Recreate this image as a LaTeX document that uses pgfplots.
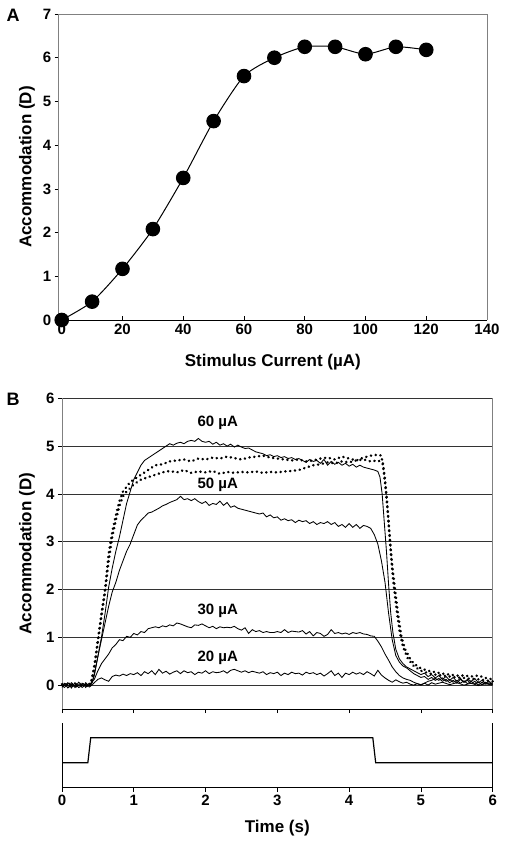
\documentclass[border=0pt]{standalone}
\usepackage{fontspec}
\setmainfont{Liberation Sans}
\usepackage{pgfplots}
\pgfplotsset{compat=1.18}
\pgfplotsset{
  mystyle/.style={
    scale only axis,
    font=\bfseries\fontsize{17}{17}\selectfont,
    ticklabel style={font=\bfseries\fontsize{15}{15}\selectfont},
    /pgf/number format/assume math mode=true,
    tick style={black, line width=0.6pt},
    major tick length=4pt,
    axis line style={-},
    axis x line*=bottom, axis y line*=left,
  },
  dotstyle/.style={black, line width=2.6pt, dash pattern=on 0.2pt off 4.6pt, line cap=round},
  trace/.style={black, line width=0.85pt},
}
\begin{document}
\begin{tikzpicture}
\path (0pt,0pt) rectangle (509pt,-847pt);
\node[font=\bfseries\fontsize{18}{18}\selectfont] at (13pt,-15pt) {A};
\node[font=\bfseries\fontsize{18}{18}\selectfont] at (13pt,-399pt) {B};

% ---------------- Panel A ----------------
\begin{axis}[mystyle,
  at={(58.7pt,-14pt)}, anchor=north west,
  width=428.3pt, height=306pt,
  xmin=-1, xmax=140, ymin=0, ymax=7,
  xtick={0,20,...,140}, ytick={0,1,...,7},
  x axis line style={black, line width=0.8pt},
  y axis line style={gray, line width=0.8pt},
  xtick align=inside, ytick align=outside,
  xlabel={Stimulus Current (µA)},
  ylabel={Accommodation (D)},
  every axis x label/.style={at={(axis description cs:0.5,0)}, anchor=center, yshift=-42pt},
  every axis y label/.style={at={(axis description cs:0,0.5)}, xshift=-31.7pt, rotate=90, anchor=center},
  clip=false]
\draw[gray, line width=0.8pt] (rel axis cs:0,1) -- (rel axis cs:1,1) -- (rel axis cs:1,0);
\addplot[black, line width=1pt, smooth, tension=0.4, mark=*, mark size=6.8pt,
  error bars/.cd, y dir=both, y explicit, error bar style={line width=1pt}, error mark options={rotate=90, mark size=3pt, line width=1pt}]
  coordinates {
  (0,0.0) +- (0,0.08)
  (10,0.42) +- (0,0.08)
  (20,1.17) +- (0,0.1)
  (30,2.08) +- (0,0.12)
  (40,3.25) +- (0,0.12)
  (50,4.55) +- (0,0.12)
  (60,5.58) +- (0,0.12)
  (70,6.0) +- (0,0.12)
  (80,6.25) +- (0,0.12)
  (90,6.25) +- (0,0.12)
  (100,6.08) +- (0,0.14)
  (110,6.25) +- (0,0.12)
  (120,6.18) +- (0,0.08)
  };
\end{axis}

% ---------------- Panel B (traces) ----------------
\begin{axis}[mystyle,
  at={(62pt,-398.3pt)}, anchor=north west,
  width=430.7pt, height=310.7pt,
  xmin=0, xmax=6, ymin=-0.5, ymax=6,
  xtick={0,1,...,6}, xticklabels={},
  ytick={0,1,...,6},
  ymajorgrids, grid style={black!80, line width=0.6pt},
  x axis line style={black, line width=0.8pt},
  y axis line style={gray, line width=0.8pt},
  xtick align=outside, ytick align=outside,
  ylabel={Accommodation (D)},
  every axis y label/.style={at={(axis description cs:0,0.5)}, xshift=-35pt, rotate=90, anchor=center},
  clip=false]
\draw[gray, line width=0.8pt] (rel axis cs:1,1) -- (rel axis cs:1,0);
% 20 uA
\addplot[trace] coordinates {
(0,-0.05)(0.03,0.04)(0.05,0.02)(0.08,-0.06)(0.1,-0.04)(0.13,0.05)(0.15,0.03)(0.18,-0.05)(0.2,-0.02)(0.23,0.06)(0.25,0.04)(0.28,-0.05)(0.3,-0.03)(0.33,0.05)(0.35,0.02)(0.38,-0.04)(0.4,-0.02)(0.45,0.05)(0.5,0.12)(0.55,0.15)(0.6,0.11)(0.65,0.08)(0.7,0.18)(0.75,0.21)(0.8,0.19)(0.85,0.23)(0.9,0.2)(0.95,0.24)(1.0,0.22)(1.05,0.26)(1.1,0.2)(1.15,0.28)(1.2,0.24)(1.25,0.3)(1.3,0.22)(1.35,0.33)(1.4,0.25)(1.45,0.29)(1.5,0.23)(1.55,0.27)(1.6,0.3)(1.65,0.24)(1.7,0.3)(1.75,0.26)(1.8,0.28)(1.85,0.22)(1.9,0.27)(1.95,0.25)(2.0,0.3)(2.05,0.24)(2.1,0.28)(2.15,0.26)(2.2,0.27)(2.25,0.3)(2.3,0.25)(2.35,0.31)(2.4,0.33)(2.45,0.3)(2.5,0.27)(2.55,0.3)(2.6,0.26)(2.65,0.29)(2.7,0.27)(2.75,0.25)(2.8,0.28)(2.85,0.22)(2.9,0.26)(2.95,0.24)(3.0,0.27)(3.05,0.2)(3.1,0.25)(3.15,0.22)(3.2,0.27)(3.25,0.24)(3.3,0.25)(3.35,0.21)(3.4,0.27)(3.45,0.24)(3.5,0.26)(3.55,0.22)(3.6,0.25)(3.65,0.19)(3.7,0.24)(3.75,0.3)(3.8,0.2)(3.85,0.25)(3.9,0.16)(3.95,0.25)(4.0,0.22)(4.05,0.27)(4.1,0.23)(4.15,0.26)(4.2,0.22)(4.25,0.28)(4.3,0.24)(4.35,0.19)(4.4,0.31)(4.45,0.21)(4.5,0.15)(4.55,0.1)(4.6,0.06)(4.65,0.11)(4.7,0.07)(4.75,0.04)(4.8,0.06)(4.85,0.02)(4.9,0.0)(4.95,0.03)(5.0,0.01)(5.05,0.04)(5.1,0.0)(5.15,0.05)(5.2,0.02)(5.3,0.06)(5.4,0.01)(5.5,0.05)(5.6,0.0)(5.7,0.04)(5.8,-0.01)(5.9,0.03)(6.0,0.0)
};
% 30 uA
\addplot[trace] coordinates {
(0,0.03)(0.03,-0.05)(0.05,-0.03)(0.08,0.05)(0.1,0.03)(0.13,-0.06)(0.15,-0.02)(0.18,0.05)(0.2,0.02)(0.23,-0.05)(0.25,-0.04)(0.28,0.04)(0.3,0.02)(0.33,-0.05)(0.35,-0.01)(0.38,0.04)(0.4,0.03)(0.45,0.12)(0.5,0.3)(0.55,0.45)(0.6,0.55)(0.65,0.65)(0.7,0.78)(0.75,0.85)(0.8,0.95)(0.85,0.93)(0.9,1.02)(0.95,1.0)(1.0,1.08)(1.05,1.05)(1.1,1.12)(1.15,1.1)(1.2,1.18)(1.25,1.2)(1.3,1.22)(1.35,1.2)(1.4,1.24)(1.45,1.22)(1.5,1.26)(1.55,1.24)(1.6,1.3)(1.65,1.28)(1.7,1.25)(1.75,1.22)(1.8,1.2)(1.85,1.26)(1.9,1.25)(1.95,1.28)(2.0,1.24)(2.05,1.2)(2.1,1.23)(2.15,1.18)(2.2,1.22)(2.25,1.2)(2.3,1.21)(2.35,1.2)(2.4,1.23)(2.45,1.18)(2.5,1.15)(2.55,1.2)(2.6,1.08)(2.65,1.16)(2.7,1.12)(2.75,1.14)(2.8,1.1)(2.85,1.12)(2.9,1.1)(2.95,1.1)(3.0,1.12)(3.05,1.1)(3.1,1.16)(3.15,1.1)(3.2,1.13)(3.25,1.12)(3.3,1.11)(3.35,1.14)(3.4,1.07)(3.45,1.12)(3.5,1.03)(3.55,1.1)(3.6,1.08)(3.65,1.02)(3.7,1.06)(3.75,1.16)(3.8,1.08)(3.85,1.1)(3.9,1.07)(3.95,1.09)(4.0,1.06)(4.05,1.1)(4.1,1.08)(4.15,1.1)(4.2,1.07)(4.25,1.06)(4.3,1.03)(4.35,1.02)(4.4,0.92)(4.45,0.8)(4.5,0.65)(4.55,0.52)(4.6,0.38)(4.65,0.28)(4.7,0.2)(4.75,0.15)(4.8,0.12)(4.85,0.1)(4.9,0.06)(4.95,0.03)(5.0,0.0)(5.05,0.04)(5.1,0.08)(5.15,0.1)(5.2,0.14)(5.25,0.1)(5.3,0.15)(5.35,0.08)(5.4,0.12)(5.45,0.06)(5.5,0.1)(5.55,0.04)(5.6,0.09)(5.65,0.03)(5.7,0.08)(5.75,0.02)(5.8,0.07)(5.85,0.01)(5.9,0.06)(5.95,0.02)(6.0,0.05)
};
% 50 uA
\addplot[trace] coordinates {
(0,-0.02)(0.05,0.03)(0.1,-0.03)(0.15,0.02)(0.2,-0.04)(0.25,0.03)(0.3,-0.02)(0.35,0.01)(0.42,0.05)(0.46,0.3)(0.5,0.6)(0.55,0.95)(0.6,1.3)(0.65,1.65)(0.7,1.95)(0.75,2.15)(0.8,2.4)(0.85,2.6)(0.9,2.8)(0.95,2.95)(1.0,3.15)(1.05,3.35)(1.1,3.45)(1.15,3.52)(1.2,3.6)(1.25,3.62)(1.3,3.66)(1.35,3.7)(1.4,3.75)(1.45,3.78)(1.5,3.82)(1.55,3.85)(1.6,3.88)(1.65,3.95)(1.7,3.88)(1.75,3.9)(1.8,3.86)(1.85,3.9)(1.9,3.84)(1.95,3.8)(2.0,3.84)(2.05,3.76)(2.1,3.8)(2.15,3.78)(2.2,3.85)(2.25,3.76)(2.3,3.82)(2.35,3.72)(2.4,3.75)(2.45,3.7)(2.5,3.68)(2.55,3.66)(2.6,3.64)(2.65,3.62)(2.7,3.6)(2.75,3.58)(2.8,3.6)(2.85,3.52)(2.9,3.56)(2.95,3.5)(3.0,3.52)(3.05,3.45)(3.1,3.48)(3.15,3.44)(3.2,3.46)(3.25,3.4)(3.3,3.45)(3.35,3.42)(3.4,3.44)(3.45,3.38)(3.5,3.42)(3.55,3.36)(3.6,3.4)(3.65,3.38)(3.7,3.42)(3.75,3.36)(3.8,3.4)(3.85,3.32)(3.9,3.36)(3.95,3.3)(4.0,3.38)(4.05,3.3)(4.1,3.36)(4.15,3.28)(4.2,3.34)(4.25,3.32)(4.3,3.28)(4.35,3.15)(4.4,2.95)(4.45,2.6)(4.5,2.15)(4.55,1.5)(4.6,0.95)(4.65,0.62)(4.7,0.48)(4.75,0.4)(4.8,0.36)(4.85,0.3)(4.9,0.24)(4.95,0.2)(5.0,0.16)(5.05,0.18)(5.1,0.12)(5.15,0.16)(5.2,0.1)(5.25,0.14)(5.3,0.08)(5.35,0.12)(5.4,0.05)(5.45,0.1)(5.5,0.04)(5.55,0.12)(5.6,0.06)(5.65,0.1)(5.7,0.03)(5.75,0.08)(5.8,0.0)(5.85,0.06)(5.9,0.02)(5.95,0.05)(6.0,0.0)
};
% 60 uA solid
\addplot[trace] coordinates {
(0,0.02)(0.05,-0.02)(0.1,0.04)(0.15,-0.03)(0.2,0.01)(0.25,-0.02)(0.3,0.03)(0.35,-0.03)(0.41,0.02)(0.45,0.2)(0.5,0.6)(0.55,1.0)(0.6,1.5)(0.65,2.05)(0.7,2.45)(0.75,2.8)(0.8,3.1)(0.85,3.45)(0.9,3.8)(0.95,4.05)(1.0,4.3)(1.05,4.45)(1.1,4.6)(1.15,4.7)(1.2,4.75)(1.25,4.8)(1.3,4.85)(1.35,4.9)(1.4,4.95)(1.45,5.0)(1.5,5.05)(1.55,5.02)(1.6,5.06)(1.65,5.08)(1.7,5.05)(1.75,5.1)(1.8,5.12)(1.85,5.1)(1.9,5.16)(1.95,5.1)(2.0,5.08)(2.05,5.1)(2.1,5.04)(2.15,5.08)(2.2,5.02)(2.25,5.05)(2.3,5.0)(2.35,5.04)(2.4,4.98)(2.45,5.02)(2.5,4.98)(2.55,4.95)(2.6,4.96)(2.65,4.92)(2.7,4.88)(2.75,4.86)(2.8,4.84)(2.85,4.8)(2.9,4.82)(2.95,4.78)(3.0,4.8)(3.05,4.76)(3.1,4.78)(3.15,4.74)(3.2,4.76)(3.25,4.72)(3.3,4.74)(3.35,4.7)(3.4,4.66)(3.45,4.72)(3.5,4.68)(3.55,4.7)(3.6,4.64)(3.65,4.72)(3.7,4.6)(3.75,4.68)(3.8,4.62)(3.85,4.66)(3.9,4.6)(3.95,4.64)(4.0,4.58)(4.05,4.62)(4.1,4.56)(4.15,4.6)(4.2,4.56)(4.25,4.54)(4.3,4.52)(4.35,4.5)(4.4,4.47)(4.43,4.35)(4.46,4.0)(4.49,3.4)(4.52,2.8)(4.55,2.1)(4.58,1.5)(4.61,1.1)(4.65,0.75)(4.7,0.55)(4.75,0.45)(4.8,0.38)(4.85,0.34)(4.9,0.3)(4.95,0.26)(5.0,0.22)(5.05,0.25)(5.1,0.18)(5.15,0.22)(5.2,0.15)(5.25,0.2)(5.3,0.12)(5.35,0.18)(5.4,0.1)(5.45,0.16)(5.5,0.08)(5.55,0.14)(5.6,0.06)(5.65,0.12)(5.7,0.08)(5.75,0.14)(5.8,0.05)(5.85,0.1)(5.9,0.04)(5.95,0.08)(6.0,0.02)
};
% dotted upper
\addplot[dotstyle] coordinates {
(0,0.0)(0.1,0.02)(0.2,-0.02)(0.3,0.01)(0.4,0.0)(0.45,0.4)(0.5,0.95)(0.55,1.5)(0.6,2.0)(0.65,2.75)(0.7,3.2)(0.75,3.55)(0.8,3.85)(0.85,4.05)(0.9,4.15)(0.95,4.25)(1.0,4.3)(1.05,4.35)(1.1,4.4)(1.2,4.5)(1.3,4.6)(1.4,4.62)(1.5,4.68)(1.6,4.7)(1.7,4.72)(1.8,4.68)(1.9,4.74)(2.0,4.72)(2.1,4.76)(2.2,4.74)(2.3,4.78)(2.4,4.75)(2.5,4.72)(2.6,4.76)(2.7,4.78)(2.8,4.8)(2.9,4.76)(3.0,4.74)(3.1,4.72)(3.2,4.7)(3.3,4.72)(3.4,4.68)(3.5,4.7)(3.6,4.74)(3.7,4.76)(3.8,4.72)(3.9,4.78)(4.0,4.74)(4.1,4.7)(4.2,4.76)(4.3,4.8)(4.4,4.82)(4.45,4.8)(4.48,4.5)(4.51,4.1)(4.54,3.6)(4.57,3.0)(4.6,2.5)(4.64,2.0)(4.68,1.5)(4.73,1.0)(4.78,0.75)(4.85,0.55)(4.9,0.45)(5.0,0.35)(5.1,0.3)(5.2,0.27)(5.3,0.24)(5.4,0.22)(5.5,0.2)(5.6,0.2)(5.7,0.18)(5.8,0.2)(5.9,0.15)(6.0,0.12)
};
% dotted lower
\addplot[dotstyle] coordinates {
(0,0.02)(0.1,-0.02)(0.2,0.02)(0.3,-0.01)(0.4,0.02)(0.45,0.35)(0.5,0.9)(0.55,1.45)(0.6,1.95)(0.65,2.6)(0.7,3.1)(0.75,3.45)(0.8,3.75)(0.85,3.95)(0.9,4.05)(0.95,4.12)(1.0,4.2)(1.1,4.3)(1.2,4.35)(1.3,4.4)(1.4,4.45)(1.5,4.48)(1.6,4.45)(1.7,4.5)(1.8,4.44)(1.9,4.47)(2.0,4.45)(2.1,4.48)(2.2,4.42)(2.3,4.46)(2.4,4.44)(2.5,4.46)(2.6,4.45)(2.7,4.47)(2.8,4.44)(2.9,4.46)(3.0,4.45)(3.1,4.47)(3.2,4.48)(3.3,4.5)(3.4,4.55)(3.5,4.6)(3.6,4.62)(3.7,4.66)(3.8,4.64)(3.9,4.68)(4.0,4.66)(4.1,4.7)(4.2,4.72)(4.3,4.68)(4.4,4.7)(4.47,4.65)(4.5,4.3)(4.53,3.8)(4.56,3.2)(4.59,2.6)(4.62,2.1)(4.66,1.6)(4.7,1.15)(4.75,0.8)(4.82,0.55)(4.9,0.4)(5.0,0.3)(5.1,0.25)(5.2,0.22)(5.3,0.2)(5.4,0.18)(5.5,0.16)(5.6,0.15)(5.7,0.13)(5.8,0.12)(5.9,0.1)(6.0,0.08)
};
\node[font=\bfseries\fontsize{15}{15}\selectfont] at (axis cs:2.17,5.48) {60 µA};
\node[font=\bfseries\fontsize{15}{15}\selectfont] at (axis cs:2.17,4.18) {50 µA};
\node[font=\bfseries\fontsize{15}{15}\selectfont] at (axis cs:2.17,1.55) {30 µA};
\node[font=\bfseries\fontsize{15}{15}\selectfont] at (axis cs:2.17,0.58) {20 µA};
\end{axis}

% ---------------- Panel B (stimulus) ----------------
\begin{axis}[mystyle,
  at={(62pt,-723.3pt)}, anchor=north west,
  width=430.7pt, height=64.4pt,
  xmin=0, xmax=6, ymin=-1, ymax=1.58,
  xtick={0,1,...,6}, ytick=\empty,
  x axis line style={black, line width=0.8pt},
  y axis line style={black, line width=0.8pt},
  xtick align=outside,
  xlabel={Time (s)},
  every axis x label/.style={at={(axis description cs:0.5,0)}, anchor=center, yshift=-40.3pt},
  clip=false]
\draw[black, line width=0.8pt] (rel axis cs:1,0) -- (rel axis cs:1,1);
\addplot[black, line width=1.2pt] coordinates {(0,0) (0.36,0) (0.40,1) (4.33,1) (4.37,0) (6,0)};
\end{axis}
\end{tikzpicture}
\end{document}
